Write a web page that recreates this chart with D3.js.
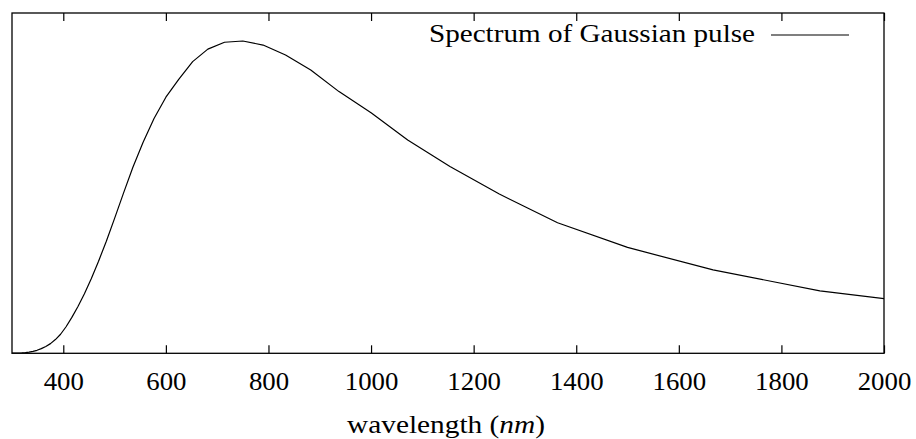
<!DOCTYPE html>
<html>
<head>
<meta charset="utf-8">
<script src="https://cdn.jsdelivr.net/npm/d3@7"></script>
<style>
html,body{margin:0;padding:0;background:#fff;}
svg{display:block;}
text{font-family:"Liberation Serif","Times New Roman",serif;fill:#000;}
</style>
</head>
<body>
<div id="chart"></div>
<script>
// wavelength samples (nm)
const wavelength = [2142.9,1875,1666.7,1500,1363.6,1250,1153.8,1071.4,1000,937.5,882.4,833.3,789.5,750,714.3,681.8,652.2,625,600,576.9,555.6,535.7,517.2,500,483.9,468.75,454.5,441.2,428.6,416.7,405.4,394.7,384.6,375,365.9,357.1,348.8,340.9,333.3,326.1,319.1,312.5,306.1,300];
// spectrum intensity (normalized)
const intensity = [0.147,0.200,0.267,0.339,0.418,0.510,0.598,0.683,0.770,0.838,0.907,0.955,0.987,1.000,0.996,0.974,0.934,0.877,0.820,0.752,0.676,0.596,0.512,0.432,0.359,0.295,0.239,0.191,0.150,0.115,0.085,0.061,0.044,0.031,0.022,0.015,0.0096,0.0061,0.0038,0.0022,0.0013,0.0008,0.0004,0.0003];
const xTicks = [400,600,800,1000,1200,1400,1600,1800,2000];
const xLabel = "wavelength";
const xUnit = "nm";
const legendLabel = "Spectrum of Gaussian pulse";

const W = 916, H = 439;
const L = 12, R = 884, T = 13, B = 353.3;

const svg = d3.select("#chart").append("svg").attr("width", W).attr("height", H);

const x = d3.scaleLinear().domain([300, 2000]).range([L, R]);
const y = d3.scaleLinear().domain([0, 1.0897]).range([B, T]);

svg.append("defs").append("clipPath").attr("id", "clip")
  .append("rect").attr("x", L).attr("y", T).attr("width", R - L).attr("height", B - T);

const data = wavelength.map((w, i) => ({w, v: intensity[i]}));

svg.append("path")
  .datum(data)
  .attr("clip-path", "url(#clip)")
  .attr("fill", "none")
  .attr("stroke", "#000")
  .attr("stroke-width", 1.2)
  .attr("stroke-linejoin", "round")
  .attr("d", d3.line().x(d => x(d.w)).y(d => y(d.v)));

// bottom axis
const gb = svg.append("g").attr("transform", `translate(0,${B})`)
  .call(d3.axisBottom(x).tickValues(xTicks).tickSizeInner(-8).tickSizeOuter(0).tickFormat(d3.format("d")));
gb.select(".domain").remove();
gb.selectAll(".tick line").attr("stroke", "#000").attr("stroke-width", 1.2);
gb.selectAll(".tick text").attr("y", 37).attr("dy", 0)
  .style("font-size", "25px").style("font-family", '"Liberation Serif",serif').attr("fill", "#000")
  .attr("textLength", d => String(d).length * 13.4).attr("lengthAdjust", "spacingAndGlyphs");

// top axis ticks
const gt = svg.append("g").attr("transform", `translate(0,${T})`)
  .call(d3.axisTop(x).tickValues(xTicks).tickSizeInner(-8).tickSizeOuter(0).tickFormat(""));
gt.select(".domain").remove();
gt.selectAll(".tick line").attr("stroke", "#000").attr("stroke-width", 1.2);

// frame
svg.append("rect").attr("x", L).attr("y", T).attr("width", R - L).attr("height", B - T)
  .attr("fill", "none").attr("stroke", "#000").attr("stroke-width", 1.3);

// x axis title
const t = svg.append("text").attr("x", 446).attr("y", 433).attr("text-anchor", "middle")
  .style("font-size", "25px").attr("textLength", 198).attr("lengthAdjust", "spacingAndGlyphs");
t.append("tspan").text(xLabel + " (");
t.append("tspan").style("font-style", "italic").text(xUnit);
t.append("tspan").text(")");

// legend
svg.append("text").attr("x", 755).attr("y", 42).attr("text-anchor", "end")
  .style("font-size", "25px").attr("textLength", 326).attr("lengthAdjust", "spacingAndGlyphs")
  .text(legendLabel);
svg.append("line").attr("x1", 771).attr("x2", 849).attr("y1", 35).attr("y2", 35)
  .attr("stroke", "#000").attr("stroke-width", 1.2);
</script>
</body>
</html>
